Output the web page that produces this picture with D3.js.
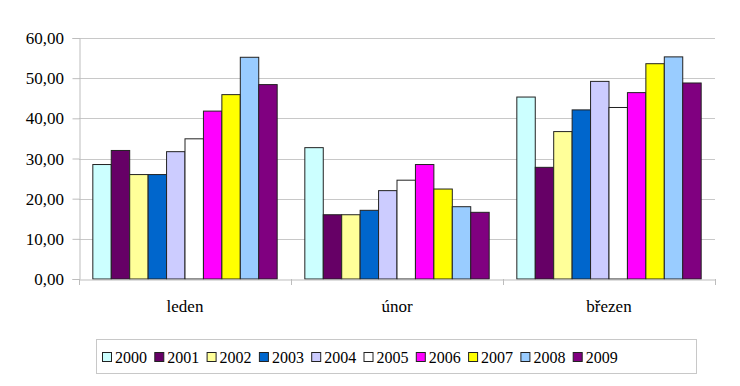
<!DOCTYPE html>
<html>
<head>
<meta charset="utf-8">
<script src="https://cdn.jsdelivr.net/npm/d3@7"></script>
</head>
<body style="margin:0">
<script>
const months = ["leden", "únor", "březen"];
const years = ["2000", "2001", "2002", "2003", "2004", "2005", "2006", "2007", "2008", "2009"];
const yearColors = ["#CCFFFF", "#660066", "#FFFF99", "#0066CC", "#CCCCFF", "#FFFFFF", "#FF00FF", "#FFFF00", "#99CCFF", "#800080"];
// values per year: [leden, únor, březen]
const values2000 = [28.5, 32.7, 45.3];
const values2001 = [32.0, 16.0, 27.8];
const values2002 = [26.0, 16.0, 36.7];
const values2003 = [26.0, 17.1, 42.1];
const values2004 = [31.7, 22.0, 49.2];
const values2005 = [34.9, 24.6, 42.7];
const values2006 = [41.8, 28.5, 46.4];
const values2007 = [45.9, 22.4, 53.6];
const values2008 = [55.2, 18.0, 55.3];
const values2009 = [48.4, 16.6, 48.8];
const yTicks = [0, 10, 20, 30, 40, 50, 60];

const seriesValues = [values2000, values2001, values2002, values2003, values2004,
                      values2005, values2006, values2007, values2008, values2009];

const W = 740, H = 386;
const plot = { left: 79, right: 715, top: 38, bottom: 279 };
const FONT = '"Liberation Serif"';

function draw() {
    const svg = d3.select("body").append("svg")
        .attr("width", W).attr("height", H)
        .style("display", "block");

    const x = d3.scaleBand().domain(months).range([plot.left, plot.right]);
    // Excel-like gap width 150%
    const inner = d3.scaleBand().domain(years)
        .range([0, x.bandwidth()])
        .paddingInner(0)
        .paddingOuter(0.75);
    const y = d3.scaleLinear().domain([0, 60]).range([plot.bottom, plot.top]);

    // gridlines
    svg.append("g")
        .selectAll("line")
        .data(yTicks.slice(1))
        .enter().append("line")
        .attr("x1", plot.left).attr("x2", plot.right)
        .attr("y1", d => Math.round(y(d)) + 0.5).attr("y2", d => Math.round(y(d)) + 0.5)
        .attr("stroke", "#c8c8c8").attr("stroke-width", 1);

    // bars
    const groups = svg.append("g").selectAll("g")
        .data(months)
        .enter().append("g")
        .attr("transform", d => `translate(${x(d)},0)`);

    groups.selectAll("rect")
        .data((m, mi) => years.map((yr, i) => ({ year: yr, value: seriesValues[i][mi], color: yearColors[i] })))
        .enter().append("rect")
        .attr("x", d => inner(d.year))
        .attr("width", inner.bandwidth())
        .attr("y", d => y(d.value))
        .attr("height", d => y(0) - y(d.value))
        .attr("fill", d => d.color)
        .attr("stroke", "#222")
        .attr("stroke-width", 1);

    // y axis line and ticks
    const yAxis = svg.append("g")
        .attr("transform", `translate(${plot.left + 0.5},0)`)
        .call(d3.axisLeft(y).tickValues(yTicks).tickSize(7).tickFormat(""));
    yAxis.select(".domain").attr("stroke", "#bdbdbd");
    yAxis.selectAll(".tick line").attr("stroke", "#bdbdbd");

    // x axis line
    const xAxis = svg.append("g")
        .attr("transform", `translate(0,${plot.bottom + 0.5})`)
        .call(d3.axisBottom(x).tickSize(0).tickFormat(""));
    xAxis.select(".domain").attr("stroke", "#bdbdbd");

    // category boundary ticks
    svg.append("g").selectAll("line")
        .data([plot.left, x("únor"), x("březen"), plot.right])
        .enter().append("line")
        .attr("x1", d => Math.round(d) + 0.5).attr("x2", d => Math.round(d) + 0.5)
        .attr("y1", plot.bottom).attr("y2", plot.bottom + 6)
        .attr("stroke", "#bdbdbd");

    // legend box and swatches
    svg.append("rect")
        .attr("x", 96.5).attr("y", 339.5)
        .attr("width", 600).attr("height", 34)
        .attr("fill", "#fff").attr("stroke", "#c8c8c8");

    svg.selectAll("rect.swatch")
        .data(years)
        .enter().append("rect")
        .attr("class", "swatch")
        .attr("x", (d, i) => 102.5 + i * 52.3).attr("y", 352.5)
        .attr("width", 9).attr("height", 9)
        .attr("fill", (d, i) => yearColors[i])
        .attr("stroke", "#222");

    // texts
    svg.selectAll("text.ylab")
        .data(yTicks)
        .enter().append("text")
        .attr("class", "ylab")
        .attr("x", plot.left - 15)
        .attr("y", d => y(d) + 6)
        .attr("text-anchor", "end")
        .attr("font-size", 17)
        .style("font-family", FONT)
        .text(d => d3.format(".2f")(d).replace(".", ","));

    svg.selectAll("text.xlab")
        .data(months)
        .enter().append("text")
        .attr("class", "xlab")
        .attr("x", d => x(d) + x.bandwidth() / 2)
        .attr("y", plot.bottom + 33)
        .attr("text-anchor", "middle")
        .attr("font-size", 17)
        .style("font-family", FONT)
        .text(d => d);

    svg.selectAll("text.leg")
        .data(years)
        .enter().append("text")
        .attr("class", "leg")
        .attr("x", (d, i) => 115 + i * 52.3)
        .attr("y", 363)
        .attr("font-size", 16)
        .style("font-family", FONT)
        .text(d => d);
}

// make sure the serif face is loaded before drawing
if (document.fonts && document.fonts.load) {
    document.fonts.load('17px "Liberation Serif"', "leden únor březen 0123456789,")
        .then(draw, draw);
} else {
    draw();
}
</script>
</body>
</html>
